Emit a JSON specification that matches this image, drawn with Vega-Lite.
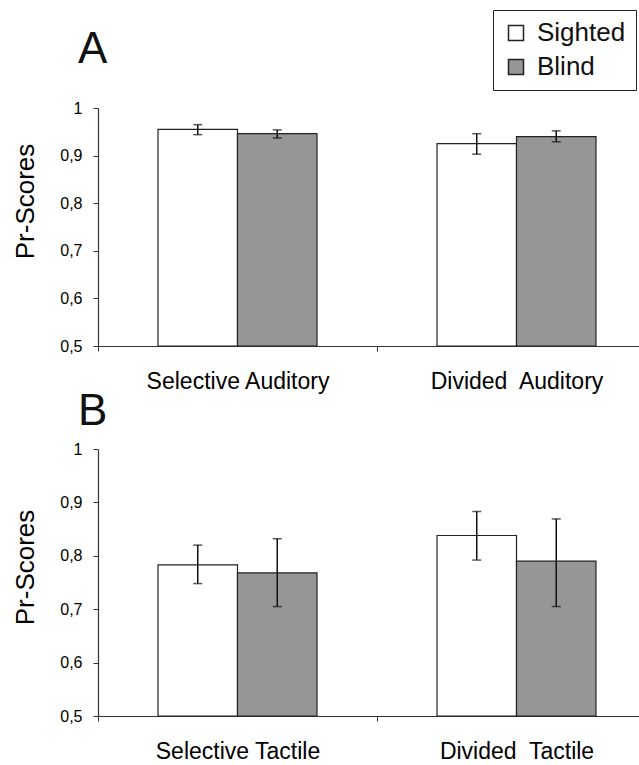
{
  "$schema": "https://vega.github.io/schema/vega-lite/v6.json",
  "background": "white",
  "padding": {"left": 11, "top": 9, "right": 0, "bottom": 0},
  "config": {
    "font": "Liberation Sans",
    "view": {"stroke": null},
    "axis": {"labelColor": "#000", "titleColor": "#000", "domainColor": "#333", "tickColor": "#333", "labelFont": "Liberation Sans", "titleFont": "Liberation Sans", "grid": false},
    "title": {"font": "Liberation Sans", "fontWeight": "normal", "color": "#111"}
  },
  "data": {"values": [
    {"panel": "A", "condition": "Selective Auditory", "group": "Sighted", "value": 0.955, "lo": 0.944, "hi": 0.965},
    {"panel": "A", "condition": "Selective Auditory", "group": "Blind", "value": 0.946, "lo": 0.937, "hi": 0.954},
    {"panel": "A", "condition": "Divided\u00a0 Auditory", "group": "Sighted", "value": 0.925, "lo": 0.903, "hi": 0.946},
    {"panel": "A", "condition": "Divided\u00a0 Auditory", "group": "Blind", "value": 0.940, "lo": 0.929, "hi": 0.952},
    {"panel": "B", "condition": "Selective Tactile", "group": "Sighted", "value": 0.783, "lo": 0.748, "hi": 0.820},
    {"panel": "B", "condition": "Selective Tactile", "group": "Blind", "value": 0.768, "lo": 0.705, "hi": 0.832},
    {"panel": "B", "condition": "Divided\u00a0 Tactile", "group": "Sighted", "value": 0.838, "lo": 0.792, "hi": 0.883},
    {"panel": "B", "condition": "Divided\u00a0 Tactile", "group": "Blind", "value": 0.790, "lo": 0.705, "hi": 0.869}
  ]},
  "resolve": {"legend": {"color": "independent"}, "scale": {"color": "independent", "y": "independent", "x": "independent"}},
  "spacing": -3,
  "vconcat": [
    {
      "title": {"text": "A", "anchor": "start", "frame": "group", "dx": -20, "dy": 62, "fontSize": 44, "offset": 0},
      "width": 558,
      "height": 238,
      "transform": [{"filter": "datum.panel === 'A'"}],
      "encoding": {
        "x": {"field": "condition", "type": "nominal", "sort": null,
              "scale": {"paddingInner": 0, "paddingOuter": 0},
              "axis": {"title": null, "labelAngle": 0, "labelFontSize": 23, "labelPadding": 19, "labelLimit": 400, "tickBand": "extent", "tickSize": 5, "domainWidth": 1.2}},
        "xOffset": {"field": "group", "type": "nominal", "sort": ["Sighted", "Blind"],
                    "scale": {"paddingInner": 0, "paddingOuter": 0.755}}
      },
      "layer": [
        {
          "mark": {"type": "bar", "stroke": "#222", "strokeWidth": 1.2},
          "encoding": {
            "y": {"field": "value", "type": "quantitative", "scale": {"domain": [0.5, 1], "zero": false, "nice": false},
                  "axis": {"title": "Pr-Scores", "titleFontSize": 26, "titleFontWeight": "normal", "titleY": 93, "titleX": -65, "titleBaseline": "alphabetic",
                           "values": [0.5, 0.6, 0.7, 0.8, 0.9, 1], "labelFontSize": 16, "labelPadding": 11, "tickSize": 5, "domainWidth": 1.2,
                           "labelExpr": "replace(format(datum.value, '.1~f'), '.', ',')"}},
            "y2": {"datum": 0.5},
            "color": {"field": "group", "type": "nominal", "sort": ["Sighted", "Blind"],
                      "scale": {"domain": ["Sighted", "Blind"], "range": ["#ffffff", "#969696"]},
                      "legend": {"title": null, "orient": "none", "legendX": 395, "legendY": -98, "strokeColor": "#222", "fillColor": "white",
                                 "padding": 10, "labelFontSize": 26, "labelColor": "#111", "labelFont": "Liberation Sans", "symbolType": "square", "symbolSize": 225,
                                 "symbolStrokeColor": "#222", "symbolStrokeWidth": 1.5, "symbolOpacity": 1, "rowPadding": 8, "labelOffset": 8}}
          }
        },
        {
          "mark": {"type": "rule", "color": "#111", "strokeWidth": 1.5},
          "encoding": {"y": {"field": "lo", "type": "quantitative"}, "y2": {"field": "hi"}}
        },
        {
          "mark": {"type": "tick", "color": "#111", "thickness": 1.5, "size": 9, "orient": "horizontal"},
          "encoding": {"y": {"field": "lo", "type": "quantitative"}}
        },
        {
          "mark": {"type": "tick", "color": "#111", "thickness": 1.5, "size": 9, "orient": "horizontal"},
          "encoding": {"y": {"field": "hi", "type": "quantitative"}}
        }
      ]
    },
    {
      "title": {"text": "B", "anchor": "start", "frame": "group", "dx": -20, "fontSize": 44, "offset": 7},
      "width": 558,
      "height": 267,
      "transform": [{"filter": "datum.panel === 'B'"}],
      "encoding": {
        "x": {"field": "condition", "type": "nominal", "sort": null,
              "scale": {"paddingInner": 0, "paddingOuter": 0},
              "axis": {"title": null, "labelAngle": 0, "labelFontSize": 23, "labelPadding": 19, "labelLimit": 400, "tickBand": "extent", "tickSize": 5, "domainWidth": 1.2}},
        "xOffset": {"field": "group", "type": "nominal", "sort": ["Sighted", "Blind"],
                    "scale": {"paddingInner": 0, "paddingOuter": 0.755}}
      },
      "layer": [
        {
          "mark": {"type": "bar", "stroke": "#222", "strokeWidth": 1.2},
          "encoding": {
            "y": {"field": "value", "type": "quantitative", "scale": {"domain": [0.5, 1], "zero": false, "nice": false},
                  "axis": {"title": "Pr-Scores", "titleFontSize": 26, "titleFontWeight": "normal", "titleY": 118, "titleX": -65, "titleBaseline": "alphabetic",
                           "values": [0.5, 0.6, 0.7, 0.8, 0.9, 1], "labelFontSize": 16, "labelPadding": 11, "tickSize": 5, "domainWidth": 1.2,
                           "labelExpr": "replace(format(datum.value, '.1~f'), '.', ',')"}},
            "y2": {"datum": 0.5},
            "color": {"field": "group", "type": "nominal", "sort": ["Sighted", "Blind"],
                      "scale": {"domain": ["Sighted", "Blind"], "range": ["#ffffff", "#969696"]},
                      "legend": null}
          }
        },
        {
          "mark": {"type": "rule", "color": "#111", "strokeWidth": 1.5},
          "encoding": {"y": {"field": "lo", "type": "quantitative"}, "y2": {"field": "hi"}}
        },
        {
          "mark": {"type": "tick", "color": "#111", "thickness": 1.5, "size": 9, "orient": "horizontal"},
          "encoding": {"y": {"field": "lo", "type": "quantitative"}}
        },
        {
          "mark": {"type": "tick", "color": "#111", "thickness": 1.5, "size": 9, "orient": "horizontal"},
          "encoding": {"y": {"field": "hi", "type": "quantitative"}}
        }
      ]
    }
  ]
}
